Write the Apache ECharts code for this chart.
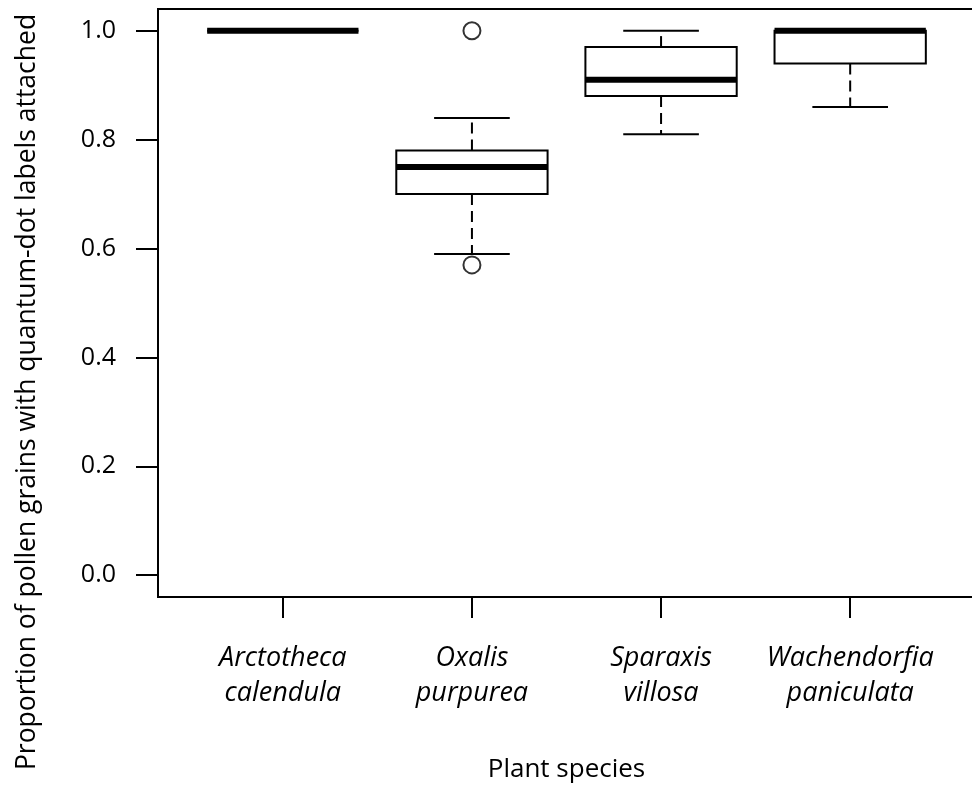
<!DOCTYPE html>
<html>
<head>
<meta charset="utf-8">
<script src="https://cdn.jsdelivr.net/npm/echarts@6/dist/echarts.min.js"></script>
<style>
  html, body { margin: 0; padding: 0; background: #fff; }
  #chart { width: 972px; height: 787px; }
</style>
</head>
<body>
<div id="chart"></div>
<script>
var species = ['Arctotheca\ncalendula', 'Oxalis\npurpurea', 'Sparaxis\nvillosa', 'Wachendorfia\npaniculata']
var whiskerLow = [1.0, 0.59, 0.81, 0.86]
var lowerQuart = [1.0, 0.70, 0.88, 0.94]
var medians = [1.0, 0.75, 0.91, 1.0]
var upperQuart = [1.0, 0.78, 0.97, 1.0]
var whiskerHigh = [1.0, 0.84, 1.0, 1.0]
var outliers = [[2, 1.0], [2, 0.57]]
var yTicks = [0, 0.2, 0.4, 0.6, 0.8, 1.0]
var xTicks = [1, 2, 3, 4]
var yTitle = 'Proportion of pollen grains with quantum-dot labels attached'
var xTitle = 'Plant species'

var font = 'Open Sans'

var boxData = species.map(function (s, i) {
  return [i + 1, whiskerLow[i], lowerQuart[i], medians[i], upperQuart[i], whiskerHigh[i]]
})

function renderBox (params, api) {
  var x = api.value(0)
  var lo = api.value(1), q1 = api.value(2), med = api.value(3), q3 = api.value(4), hi = api.value(5)
  var halfBox = 0.4, halfCap = 0.2
  var tl = api.coord([x - halfBox, q3])
  var br = api.coord([x + halfBox, q1])
  var c = function (xx, yy) { return api.coord([xx, yy]) }
  var thin = { stroke: '#000', lineWidth: 2, fill: null }
  var dashed = { stroke: '#000', lineWidth: 2, lineDash: [11, 6] }
  var children = []

  if (hi > q3) {
    children.push({ type: 'line', shape: { x1: c(x, q3)[0], y1: c(x, q3)[1], x2: c(x, hi)[0], y2: c(x, hi)[1] }, style: dashed })
  }
  if (lo < q1) {
    children.push({ type: 'line', shape: { x1: c(x, q1)[0], y1: c(x, q1)[1], x2: c(x, lo)[0], y2: c(x, lo)[1] }, style: dashed })
  }
  // whisker caps
  children.push({ type: 'line', shape: { x1: c(x - halfCap, hi)[0], y1: c(x, hi)[1], x2: c(x + halfCap, hi)[0], y2: c(x, hi)[1] }, style: thin })
  children.push({ type: 'line', shape: { x1: c(x - halfCap, lo)[0], y1: c(x, lo)[1], x2: c(x + halfCap, lo)[0], y2: c(x, lo)[1] }, style: thin })
  // box
  children.push({ type: 'rect', shape: { x: tl[0], y: tl[1], width: br[0] - tl[0], height: br[1] - tl[1] }, style: { stroke: '#000', lineWidth: 2, fill: '#fff' } })
  // median
  children.push({ type: 'line', shape: { x1: tl[0], y1: c(x, med)[1], x2: br[0], y2: c(x, med)[1] }, style: { stroke: '#000', lineWidth: 6, lineCap: 'butt' } })

  return { type: 'group', children: children }
}

var chart = echarts.init(document.getElementById('chart'))

chart.setOption({
  animation: false,
  backgroundColor: '#fff',
  grid: {
    left: 158,
    top: 9,
    right: -3,
    bottom: 190,
    show: true,
    borderColor: '#000',
    borderWidth: 2,
    containLabel: false,
    outerBoundsMode: 'none'
  },
  // y title is centred on the whole figure, not on the plot box
  graphic: [{
    type: 'text',
    x: 27,
    y: 392,
    rotation: Math.PI / 2,
    style: {
      text: yTitle,
      fontFamily: font,
      fontSize: 26.5,
      fill: '#000',
      align: 'center',
      verticalAlign: 'middle'
    }
  }],
  xAxis: {
    type: 'value',
    min: 0.34,
    max: 4.66,
    name: xTitle,
    nameLocation: 'middle',
    nameGap: 160,
    nameTextStyle: { fontFamily: font, fontSize: 26, color: '#000' },
    axisLine: { show: false, onZero: false },
    splitLine: { show: false },
    axisTick: {
      show: true,
      length: 21,
      customValues: xTicks,
      lineStyle: { color: '#000', width: 2 }
    },
    axisLabel: {
      customValues: xTicks,
      formatter: function (v) { return species[Math.round(v) - 1] },
      margin: 44,
      fontFamily: font,
      fontStyle: 'italic',
      fontSize: 27,
      lineHeight: 35,
      color: '#000'
    }
  },
  yAxis: {
    type: 'value',
    min: -0.04,
    max: 1.04,
    axisLine: { show: false, onZero: false },
    splitLine: { show: false },
    axisTick: {
      show: true,
      length: 22,
      customValues: yTicks,
      lineStyle: { color: '#000', width: 2 }
    },
    axisLabel: {
      customValues: yTicks,
      formatter: function (v) { return v.toFixed(1) },
      margin: 42,
      fontFamily: font,
      fontSize: 25,
      color: '#000'
    }
  },
  series: [
    {
      type: 'custom',
      renderItem: renderBox,
      data: boxData,
      encode: { x: 0, y: [1, 2, 3, 4, 5] },
      clip: false,
      z: 2
    },
    {
      type: 'scatter',
      data: outliers,
      symbol: 'circle',
      symbolSize: 17,
      itemStyle: { color: 'rgba(0,0,0,0)', borderColor: '#000', borderWidth: 2 },
      z: 3
    }
  ]
})
</script>
</body>
</html>
